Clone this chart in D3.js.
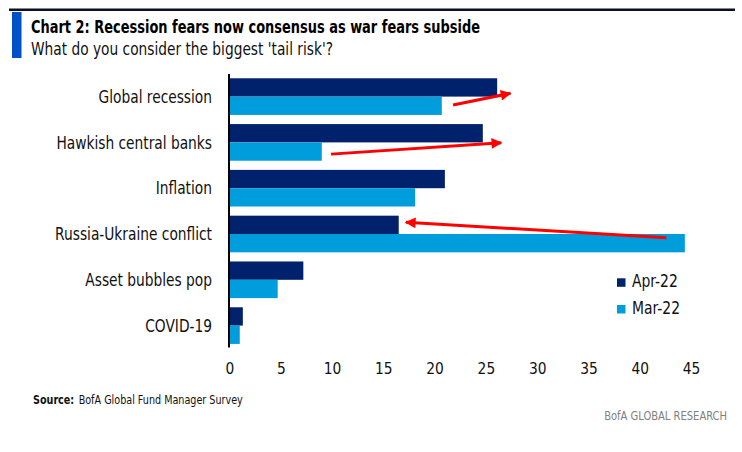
<!DOCTYPE html>
<html>
<head>
<meta charset="utf-8">
<script src="https://cdn.jsdelivr.net/npm/d3@7/dist/d3.min.js"></script>
<style>
  html, body { margin: 0; padding: 0; background: #fff; }
  svg { display: block; }
  text { font-family: "Liberation Sans Narrow", "DejaVu Sans Condensed", "Open Sans", sans-serif; }
</style>
</head>
<body>
<svg id="chart" width="742" height="452"></svg>
<script>
// ---- data ----
const categories = ["Global recession", "Hawkish central banks", "Inflation", "Russia-Ukraine conflict", "Asset bubbles pop", "COVID-19"];
const seriesNames = ["Apr-22", "Mar-22"];
const apr22 = [26.1, 24.7, 21.0, 16.5, 7.2, 1.3];
const mar22 = [20.7, 9.0, 18.1, 44.4, 4.7, 1.0];
const xTicks = [0, 5, 10, 15, 20, 25, 30, 35, 40, 45];
// annotation arrows (value units, category, position within group 0..1)
const arrows = [
  { cat: "Global recession", from: [21.8, 0.73], to: [27.4, 0.41] },
  { cat: "Hawkish central banks", from: [9.9, 0.82], to: [26.5, 0.51] },
  { cat: "Russia-Ukraine conflict", from: [42.6, 0.60], to: [17.2, 0.18] }
];
const titleText = "Chart 2: Recession fears now consensus as war fears subside";
const subtitleText = "What do you consider the biggest 'tail risk'?";

const colors = { "Apr-22": "#00216b", "Mar-22": "#009ddc" };

const svg = d3.select("#chart");

// horizontally condense text to mimic a condensed face
function condense(sel, f) {
  sel.each(function () {
    const w = this.getComputedTextLength();
    d3.select(this).attr("textLength", w * f).attr("lengthAdjust", "spacingAndGlyphs");
  });
}

const x = d3.scaleLinear().domain([0, 45]).range([229.5, 691]);
const y0 = d3.scaleBand().domain(categories).range([73.7, 348.5]).paddingInner(0.2).paddingOuter(0.1);
const y1 = d3.scaleBand().domain(seriesNames).range([0, y0.bandwidth()]).padding(0);

// header
svg.append("rect").attr("x", 9).attr("y", 8.5).attr("width", 726).attr("height", 2.5).attr("fill", "#0a0f24");
svg.append("rect").attr("x", 12).attr("y", 12).attr("width", 9.5).attr("height", 46).attr("fill", "#0051c8");
svg.append("text").attr("x", 31).attr("y", 33.3)
  .attr("font-size", 18).attr("font-weight", "bold").attr("fill", "#000")
  .attr("textLength", 449).attr("lengthAdjust", "spacingAndGlyphs")
  .text(titleText);
svg.append("text").attr("x", 31).attr("y", 55)
  .attr("font-size", 17.5).attr("fill", "#111")
  .attr("textLength", 302).attr("lengthAdjust", "spacingAndGlyphs")
  .text(subtitleText);

// bars
const rows = categories.map((c, i) => ({ cat: c, values: [
  { key: "Apr-22", v: apr22[i] }, { key: "Mar-22", v: mar22[i] } ] }));

const g = svg.append("g");
const groups = g.selectAll("g.grp").data(rows).join("g")
  .attr("class", "grp")
  .attr("transform", d => `translate(0,${y0(d.cat)})`);
groups.selectAll("rect").data(d => d.values).join("rect")
  .attr("x", x(0))
  .attr("y", d => y1(d.key))
  .attr("width", d => x(d.v) - x(0))
  .attr("height", y1.bandwidth())
  .attr("fill", d => colors[d.key]);

// y axis line and labels
svg.append("line").attr("x1", 229).attr("x2", 229).attr("y1", 74).attr("y2", 347.5)
  .attr("stroke", "#000").attr("stroke-width", 2);
const catLabels = svg.append("g").selectAll("text").data(categories).join("text")
  .attr("x", 212)
  .attr("y", d => y0(d) + y0.bandwidth() / 2)
  .attr("dy", "0.36em")
  .attr("text-anchor", "end")
  .attr("font-size", 17)
  .attr("fill", "#111")
  .text(d => d);
condense(catLabels, 0.9);

// x axis (no line, only labels)
const xAxis = d3.axisBottom(x).tickValues(xTicks).tickSize(0).tickPadding(0).tickFormat(d3.format("d"));
const xg = svg.append("g").attr("transform", "translate(0,362)").call(xAxis);
xg.select(".domain").remove();
xg.selectAll("text").attr("font-size", 16.5).attr("fill", "#111")
  .attr("font-family", "\"Liberation Sans Narrow\", \"DejaVu Sans Condensed\", sans-serif");
condense(xg.selectAll("text"), 0.93);

// legend
const leg = svg.append("g");
seriesNames.forEach((s, i) => {
  const yy = 278.3 + i * 26.7;
  leg.append("rect").attr("x", 617).attr("y", yy).attr("width", 8.5).attr("height", 8.5).attr("fill", colors[s]);
  const t = leg.append("text").attr("x", 632).attr("y", yy + 8.5).attr("font-size", 17).attr("fill", "#111").text(s);
  condense(t, 0.91);
});

// arrows
const defs = svg.append("defs");
defs.append("marker").attr("id", "ah").attr("viewBox", "0 0 10 10")
  .attr("refX", 9).attr("refY", 5).attr("markerWidth", 4.4).attr("markerHeight", 3.6)
  .attr("markerUnits", "strokeWidth").attr("orient", "auto")
  .append("path").attr("d", "M0,0 L10,5 L0,10 Z").attr("fill", "#ff0000");
svg.append("g").selectAll("line").data(arrows).join("line")
  .attr("x1", d => x(d.from[0]))
  .attr("y1", d => y0(d.cat) + d.from[1] * y0.bandwidth())
  .attr("x2", d => x(d.to[0]))
  .attr("y2", d => y0(d.cat) + d.to[1] * y0.bandwidth())
  .attr("stroke", "#ff0000").attr("stroke-width", 3)
  .attr("marker-end", "url(#ah)");

// source & footer
const src = svg.append("text").attr("x", 33).attr("y", 404).attr("font-size", 12).attr("fill", "#111");
src.append("tspan").attr("font-weight", "bold").text("Source:");
src.append("tspan").attr("dx", 5).text("BofA Global Fund Manager Survey");
condense(src, 0.91);
const foot = svg.append("text").attr("x", 727).attr("y", 420).attr("text-anchor", "end")
  .attr("font-size", 12.5).attr("fill", "#808080").text("BofA GLOBAL RESEARCH");
condense(foot, 0.885);
</script>
</body>
</html>
